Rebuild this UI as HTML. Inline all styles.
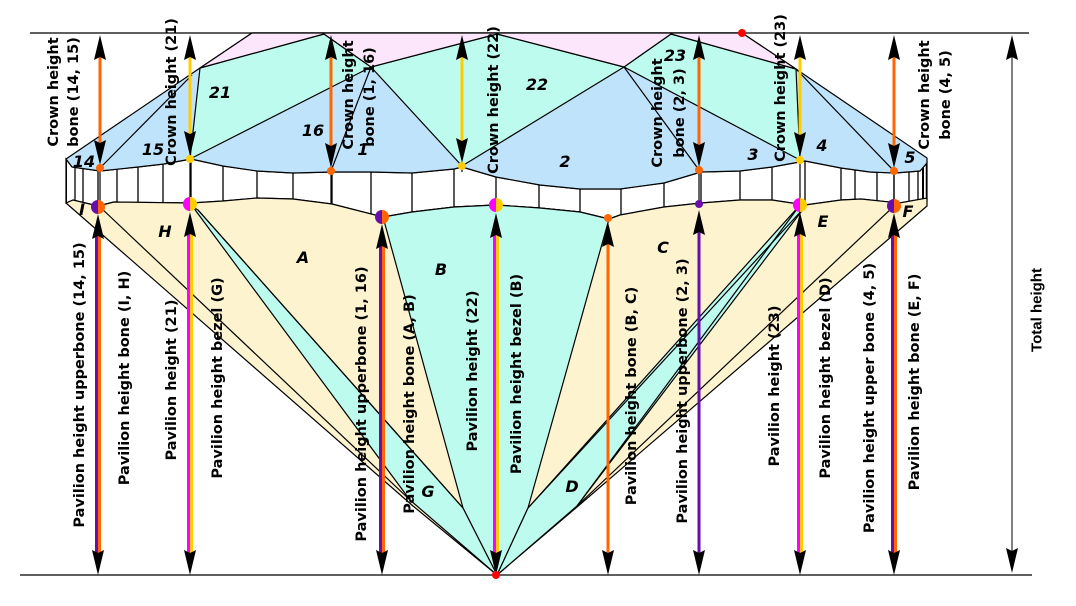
<!DOCTYPE html>
<html><head><meta charset="utf-8"><style>
html,body{margin:0;padding:0;background:#fff;}
svg{display:block;}
.lb{font-family:"DejaVu Sans","Liberation Sans",sans-serif;font-weight:bold;font-size:14.5px;fill:#000;}
.fl{font-family:"DejaVu Sans","Liberation Sans",sans-serif;font-weight:bold;font-style:italic;font-size:16px;fill:#000;}
.th{font-family:"Liberation Sans",sans-serif;font-weight:bold;font-size:15px;fill:#000;}
</style></head><body>
<svg width="1076" height="606" viewBox="0 0 1076 606" xmlns="http://www.w3.org/2000/svg">
<defs>
<clipPath id="gird"><polygon points="66,159 72,167 100,171 138,167 164,164 191,159 223,166 257,171 293,173 332,172 371,172 412,173 454,169 462,167 496,177 540,185 580,189 620,189 664,183 701,172 740,171 772,167 805,161 841,168 870,172 895,173 920,171 927,163 927,200 899,203 861,199 841,200 805,205 772,200 740,200 701,203 664,207 620,215 609,219 580,212 540,208 496,205 454,207 412,212 383,217 332,204 293,199 257,198 223,201 191,203 114,202 98,206 73,200 66,203"/></clipPath>
</defs>
<line x1="30" y1="33" x2="1029" y2="33" stroke="#000" stroke-width="1.2"/>
<line x1="20" y1="575" x2="1032" y2="575" stroke="#000" stroke-width="1.2"/>

<polygon points="66,159 72,167 100,171 138,167 164,164 191,159 223,166 257,171 293,173 332,172 371,172 412,173 454,169 462,167 496,177 540,185 580,189 620,189 664,183 701,172 740,171 772,167 805,161 841,168 870,172 895,173 920,171 927,163 927,200 899,203 861,199 841,200 805,205 772,200 740,200 701,203 664,207 620,215 609,219 580,212 540,208 496,205 454,207 412,212 383,217 332,204 293,199 257,198 223,201 191,203 114,202 98,206 73,200 66,203" fill="#fff" stroke="#000" stroke-width="1.2"/>
<g clip-path="url(#gird)" stroke="#000" stroke-width="1.3">
<line x1="66" y1="150" x2="66" y2="230" stroke-width="2"/>
<line x1="75" y1="150" x2="75" y2="230"/><line x1="83" y1="150" x2="83" y2="230"/>
<line x1="98" y1="150" x2="98" y2="230"/><line x1="117" y1="150" x2="117" y2="230"/>
<line x1="138" y1="150" x2="138" y2="230"/><line x1="163" y1="150" x2="163" y2="230"/>
<line x1="191" y1="150" x2="191" y2="230"/><line x1="223" y1="150" x2="223" y2="230"/>
<line x1="257" y1="150" x2="257" y2="230"/><line x1="293" y1="150" x2="293" y2="230"/>
<line x1="332" y1="150" x2="332" y2="230"/><line x1="371" y1="150" x2="371" y2="230"/>
<line x1="412" y1="150" x2="412" y2="230"/><line x1="454" y1="150" x2="454" y2="230"/>
<line x1="496" y1="150" x2="496" y2="230"/><line x1="539" y1="150" x2="539" y2="230"/>
<line x1="580" y1="150" x2="580" y2="230"/><line x1="621" y1="150" x2="621" y2="230"/>
<line x1="664" y1="150" x2="664" y2="230"/><line x1="701" y1="150" x2="701" y2="230"/>
<line x1="740" y1="150" x2="740" y2="230"/><line x1="772" y1="150" x2="772" y2="230"/>
<line x1="805" y1="150" x2="805" y2="230"/><line x1="841" y1="150" x2="841" y2="230"/>
<line x1="855" y1="150" x2="855" y2="230"/><line x1="877" y1="150" x2="877" y2="230"/>
<line x1="894" y1="150" x2="894" y2="230"/><line x1="909" y1="150" x2="909" y2="230"/>
<line x1="918" y1="150" x2="918" y2="230"/><line x1="923" y1="150" x2="923" y2="230" stroke-width="2"/>
<line x1="927" y1="150" x2="927" y2="230" stroke-width="2.5"/>
</g>

<g stroke="#000" stroke-width="1.2" stroke-linejoin="round">
<polygon points="66,203 73,200 98,206 114,202 191,203 223,201 257,198 293,199 332,204 383,217 412,212 454,207 496,205 540,208 580,212 609,219 620,215 664,207 701,203 740,200 772,200 805,205 841,200 861,199 899,203 927,198 927,206 577,507 497,575 413,506" fill="#fdf3cf"/>
<polygon points="383,217 412,212 454,207 496,205 540,208 580,212 609,219 528,508 497,575 463,508" fill="#bdfbee"/>
<polygon points="193,207 198,210 463,508 497,575 410,500" fill="#bdfbee"/>
<polygon points="800,205 528,508 497,575 577,506 804,208" fill="#bdfbee"/>
<line x1="100" y1="207" x2="410" y2="500"/>
<line x1="198" y1="210" x2="463" y2="508"/>
<line x1="800" y1="205" x2="577" y2="506"/>
<line x1="894" y1="206" x2="577" y2="506"/>
<line x1="804" y1="208" x2="528" y2="508"/>
</g>

<g stroke="#000" stroke-width="1.2" stroke-linejoin="round">
<polygon points="66,159 200,68 252,33 742,33 796,69 927,158 927,163 920,171 895,173 870,172 841,168 805,161 772,167 740,171 701,172 664,183 620,189 580,189 540,185 496,177 462,167 454,169 412,173 371,172 332,172 293,173 257,171 223,166 191,159 164,164 138,167 100,171 72,167" fill="#bfe3fb"/>
<polygon points="200,68 324,34 371,67 190,159" fill="#bdfbee"/>
<polygon points="371,67 497,34 624,67 462,166" fill="#bdfbee"/>
<polygon points="624,67 671,34 796,69 800,160" fill="#bdfbee"/>
<polygon points="252,33 742,33 796,69 671,34 624,67 497,34 371,67 324,34 200,68" fill="#fce6fb"/>
<line x1="100" y1="168" x2="192" y2="75"/>
<line x1="371" y1="67" x2="331" y2="171"/>
<line x1="624" y1="67" x2="699" y2="170"/>
<line x1="796" y1="69" x2="894" y2="171"/>
</g>

<g>
<line x1="100" y1="55" x2="100" y2="150" stroke="#ff6600" stroke-width="3"/>
<line x1="190" y1="55" x2="190" y2="140" stroke="#ffcc00" stroke-width="3"/>
<line x1="331" y1="55" x2="331" y2="153" stroke="#ff6600" stroke-width="3"/>
<line x1="462" y1="55" x2="462" y2="148" stroke="#ffcc00" stroke-width="3"/>
<line x1="699" y1="55" x2="699" y2="151" stroke="#ff6600" stroke-width="3"/>
<line x1="800" y1="55" x2="800" y2="141" stroke="#ffcc00" stroke-width="3"/>
<line x1="894" y1="55" x2="894" y2="152" stroke="#ff6600" stroke-width="3"/>
</g>
<g fill="#000">
<polygon points="100,35 94,60 100,57 106,60"/><polygon points="100,165 94,140 100,143 106,140"/>
<polygon points="190,35 184,60 190,57 196,60"/><polygon points="190,156 184,131 190,134 196,131"/>
<polygon points="331,35 325,60 331,57 337,60"/><polygon points="331,168 325,143 331,146 337,143"/>
<polygon points="462,35 456,60 462,57 468,60"/><polygon points="462,163 456,138 462,141 468,138"/>
<polygon points="699,35 693,60 699,57 705,60"/><polygon points="699,167 693,142 699,145 705,142"/>
<polygon points="800,35 794,60 800,57 806,60"/><polygon points="800,157 794,132 800,135 806,132"/>
<polygon points="894,35 888,60 894,57 900,60"/><polygon points="894,168 888,143 894,146 900,143"/>
</g>
<g stroke="#000" stroke-width="1.2">
<line x1="100" y1="168" x2="100" y2="205"/><line x1="190" y1="159" x2="190" y2="203"/>
<line x1="331" y1="171" x2="331" y2="204"/><line x1="462" y1="166" x2="462" y2="172"/>
<line x1="699" y1="170" x2="699" y2="204"/><line x1="800" y1="160" x2="800" y2="205"/>
<line x1="894" y1="171" x2="894" y2="206"/>
</g>

<g stroke-width="3">
<line x1="96.5" y1="232" x2="96.5" y2="555" stroke="#6a0dad"/><line x1="99.5" y1="232" x2="99.5" y2="555" stroke="#ff6600"/>
<line x1="188.5" y1="232" x2="188.5" y2="555" stroke="#ff00ff"/><line x1="191.5" y1="232" x2="191.5" y2="555" stroke="#ffcc00"/>
<line x1="380.5" y1="242" x2="380.5" y2="555" stroke="#6a0dad"/><line x1="383.5" y1="242" x2="383.5" y2="555" stroke="#ff6600"/>
<line x1="494.5" y1="232" x2="494.5" y2="555" stroke="#ff00ff"/><line x1="497.5" y1="232" x2="497.5" y2="555" stroke="#ffcc00"/>
<line x1="608" y1="242" x2="608" y2="555" stroke="#ff6600"/>
<line x1="699" y1="232" x2="699" y2="555" stroke="#6a0dad"/>
<line x1="798.5" y1="232" x2="798.5" y2="555" stroke="#ff00ff"/><line x1="801.5" y1="232" x2="801.5" y2="555" stroke="#ffcc00"/>
<line x1="892.5" y1="232" x2="892.5" y2="555" stroke="#6a0dad"/><line x1="895.5" y1="232" x2="895.5" y2="555" stroke="#ff6600"/>
</g>
<g fill="#000">
<polygon points="98,214 92,239 98,236 104,239"/><polygon points="98,575 92,550 98,553 104,550"/>
<polygon points="190,212 184,237 190,234 196,237"/><polygon points="190,575 184,550 190,553 196,550"/>
<polygon points="382,224 376,249 382,246 388,249"/><polygon points="382,575 376,550 382,553 388,550"/>
<polygon points="496,213 490,238 496,235 502,238"/><polygon points="496,575 490,550 496,553 502,550"/>
<polygon points="608,222 602,247 608,244 614,247"/><polygon points="608,575 602,550 608,553 614,550"/>
<polygon points="699,210 693,235 699,232 705,235"/><polygon points="699,575 693,550 699,553 705,550"/>
<polygon points="800,212 794,237 800,234 806,237"/><polygon points="800,575 794,550 800,553 806,550"/>
<polygon points="894,213 888,238 894,235 900,238"/><polygon points="894,575 888,550 894,553 900,550"/>
</g>

<line x1="1012" y1="50" x2="1012" y2="560" stroke="#000" stroke-width="1"/>
<polygon points="1012,35 1006,60 1012,57 1018,60" fill="#000"/>
<polygon points="1012,573 1006,548 1012,551 1018,548" fill="#000"/>

<g>
<circle cx="100" cy="168" r="4" fill="#ff6600"/><circle cx="190" cy="159" r="4" fill="#ffcc00"/>
<circle cx="331" cy="171" r="4" fill="#ff6600"/><circle cx="462" cy="166" r="4" fill="#ffcc00"/>
<circle cx="699" cy="170" r="4" fill="#ff6600"/><circle cx="800" cy="160" r="4" fill="#ffcc00"/>
<circle cx="894" cy="171" r="4" fill="#ff6600"/>
<circle cx="742" cy="33" r="4" fill="#ff0000"/><circle cx="496" cy="575" r="4" fill="#ff0000"/>
<circle cx="608" cy="218" r="4" fill="#ff6600"/><circle cx="699" cy="204" r="4" fill="#6a0dad"/>
<path d="M98,200 A7,7 0 0 0 98,214 Z" fill="#6a0dad"/><path d="M98,200 A7,7 0 0 1 98,214 Z" fill="#ff6600"/>
<path d="M190,197 A7,7 0 0 0 190,211 Z" fill="#ff00ff"/><path d="M190,197 A7,7 0 0 1 190,211 Z" fill="#ffcc00"/>
<path d="M382,210 A7,7 0 0 0 382,224 Z" fill="#6a0dad"/><path d="M382,210 A7,7 0 0 1 382,224 Z" fill="#ff6600"/>
<path d="M496,198 A7,7 0 0 0 496,212 Z" fill="#ff00ff"/><path d="M496,198 A7,7 0 0 1 496,212 Z" fill="#ffcc00"/>
<path d="M800,198 A7,7 0 0 0 800,212 Z" fill="#ff00ff"/><path d="M800,198 A7,7 0 0 1 800,212 Z" fill="#ffcc00"/>
<path d="M894,199 A7,7 0 0 0 894,213 Z" fill="#6a0dad"/><path d="M894,199 A7,7 0 0 1 894,213 Z" fill="#ff6600"/>
</g>

<g class="fl" text-anchor="middle">
<text x="84" y="167">14</text><text x="153" y="155">15</text><text x="220" y="98">21</text>
<text x="313" y="136">16</text><text x="363" y="155">1</text><text x="537" y="90">22</text>
<text x="675" y="61">23</text><text x="565" y="167">2</text><text x="753" y="160">3</text>
<text x="822" y="151">4</text><text x="910" y="163">5</text>
<text x="82" y="215">I</text><text x="165" y="237">H</text><text x="303" y="263">A</text>
<text x="441" y="275">B</text><text x="428" y="497">G</text><text x="663" y="253">C</text>
<text x="572" y="492">D</text><text x="823" y="227">E</text><text x="908" y="217">F</text>
</g>

<g class="lb" text-anchor="middle" dominant-baseline="central">
<text transform="translate(54,92) rotate(-90)">Crown height</text>
<text transform="translate(74,92) rotate(-90)">bone (14, 15)</text>
<text transform="translate(172,92) rotate(-90)">Crown height (21)</text>
<text transform="translate(349,95) rotate(-90)">Crown height</text>
<text transform="translate(370,97) rotate(-90)">bone (1, 16)</text>
<text transform="translate(494,100) rotate(-90)">Crown height (22)</text>
<text transform="translate(658,113) rotate(-90)">Crown height</text>
<text transform="translate(680,113) rotate(-90)">bone (2, 3)</text>
<text transform="translate(781,88) rotate(-90)">Crown height (23)</text>
<text transform="translate(925,95) rotate(-90)">Crown height</text>
<text transform="translate(946,95) rotate(-90)">bone (4, 5)</text>

<text transform="translate(80,385) rotate(-90)">Pavilion height upperbone (14, 15)</text>
<text transform="translate(125,378) rotate(-90)">Pavilion height bone (I, H)</text>
<text transform="translate(172,380) rotate(-90)">Pavilion height (21)</text>
<text transform="translate(218,378) rotate(-90)">Pavilion height bezel (G)</text>
<text transform="translate(362,404) rotate(-90)">Pavilion height upperbone (1, 16)</text>
<text transform="translate(410,404) rotate(-90)">Pavilion height bone (A, B)</text>
<text transform="translate(473,371) rotate(-90)">Pavilion height (22)</text>
<text transform="translate(517,374) rotate(-90)">Pavilion height bezel (B)</text>
<text transform="translate(632,396) rotate(-90)">Pavilion height bone  (B, C)</text>
<text transform="translate(683,391) rotate(-90)">Pavilion height upperbone (2, 3)</text>
<text transform="translate(775,386) rotate(-90)">Pavilion height (23)</text>
<text transform="translate(826,378) rotate(-90)">Pavilion height bezel (D)</text>
<text transform="translate(870,398) rotate(-90)">Pavilion height  upper bone (4, 5)</text>
<text transform="translate(915,382) rotate(-90)">Pavilion height bone (E, F)</text>
</g>
<text class="th" text-anchor="middle" dominant-baseline="central" transform="translate(1037,310) rotate(-90)">Total height</text>
</svg>
</body></html>
